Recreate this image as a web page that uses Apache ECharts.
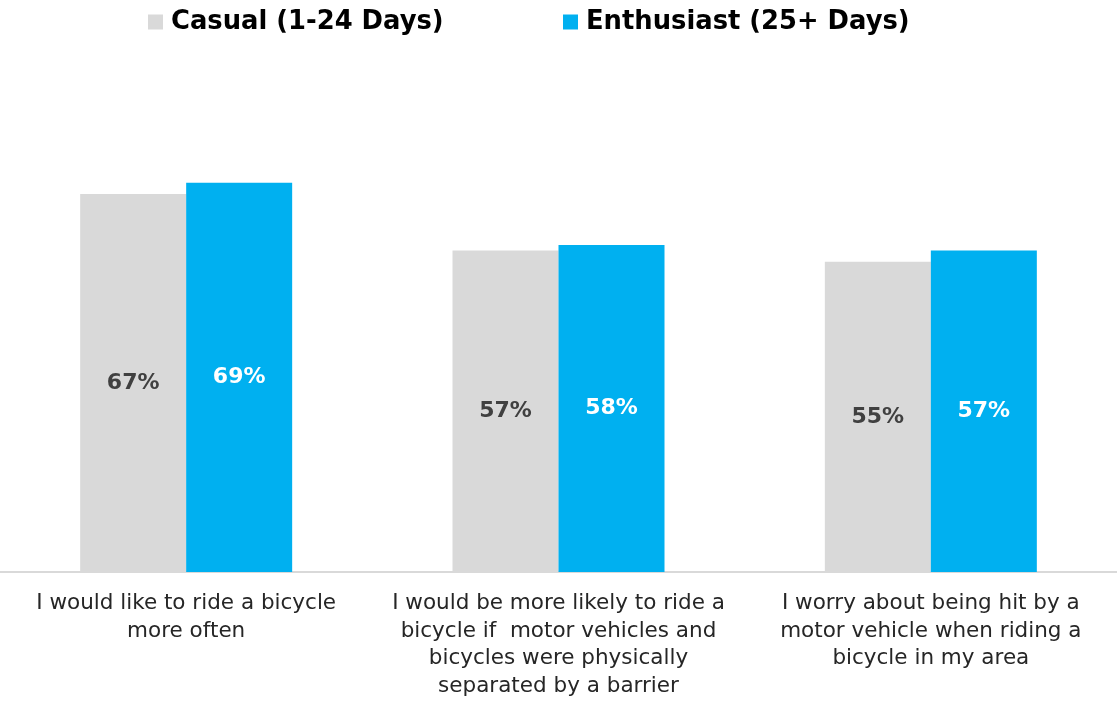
<!DOCTYPE html>
<html><head><meta charset="utf-8">
<script src="https://cdn.jsdelivr.net/npm/echarts@6/dist/echarts.min.js"></script>
<style>html,body{margin:0;padding:0;background:#fff}#c{width:1117px;height:716px}</style>
</head><body><div id="c"></div>
<script>
const categories = [
  'I would like to ride a bicycle\nmore often',
  'I would be more likely to ride a\nbicycle if  motor vehicles and\nbicycles were physically\nseparated by a barrier',
  'I worry about being hit by a\nmotor vehicle when riding a\nbicycle in my area'
];
const casual = [67, 57, 55];
const enthusiast = [69, 58, 57];
const seriesNames = ['Casual (1-24 Days)', 'Enthusiast (25+ Days)'];

const FONT = "'DejaVu Sans', sans-serif";
const chart = echarts.init(document.getElementById('c'));
chart.setOption({
  animation: false,
  legend: [
    {data: [seriesNames[0]], left: 143, top: 4, itemWidth: 15, itemHeight: 15, icon: 'rect',
     textStyle: {fontFamily: FONT, fontWeight: 'bold', fontSize: 25.8, color: '#000', padding: [0, 0, 0, 3]}},
    {data: [seriesNames[1]], left: 558, top: 4, itemWidth: 15, itemHeight: 15, icon: 'rect',
     textStyle: {fontFamily: FONT, fontWeight: 'bold', fontSize: 25.8, color: '#000', padding: [0, 0, 0, 3]}}
  ],
  grid: {left: 0, right: 0, top: 8, bottom: 144},
  xAxis: {
    type: 'category', data: categories,
    axisLine: {lineStyle: {color: '#D9D9D9', width: 2}},
    axisTick: {show: false},
    axisLabel: {fontFamily: FONT, fontSize: 21.5, color: '#262626', lineHeight: 27.5, margin: 18, interval: 0}
  },
  yAxis: {type: 'value', min: 0, max: 100, show: false, splitLine: {show: false}},
  series: [
    {name: seriesNames[0], type: 'bar', data: casual, barWidth: 106, barGap: '0%',
     itemStyle: {color: '#D9D9D9'},
     label: {show: true, position: 'inside', formatter: '{c}%', fontFamily: FONT, fontWeight: 'bold', fontSize: 22, color: '#404040'}},
    {name: seriesNames[1], type: 'bar', data: enthusiast, barWidth: 106, barGap: '0%',
     itemStyle: {color: '#00B0F0'},
     label: {show: true, position: 'inside', formatter: '{c}%', fontFamily: FONT, fontWeight: 'bold', fontSize: 22, color: '#FFFFFF'}}
  ]
});
</script></body></html>
